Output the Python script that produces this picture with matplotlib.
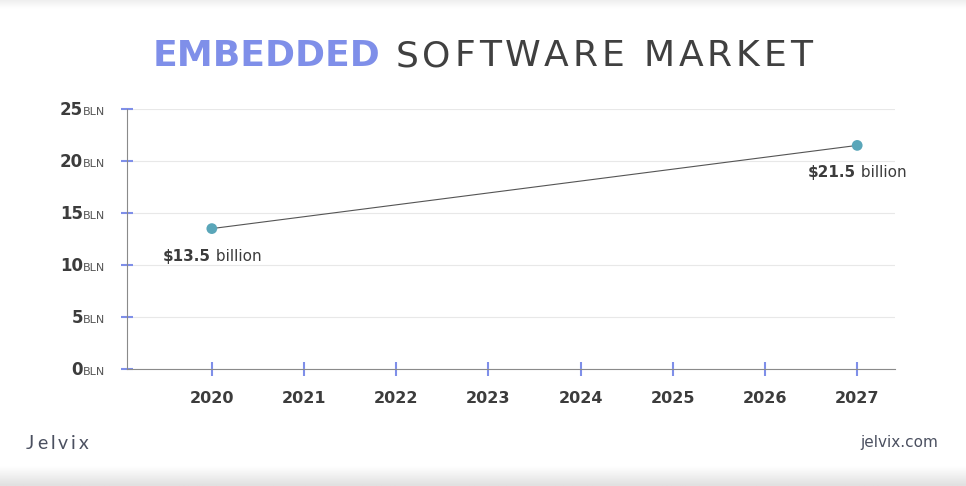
import numpy as np
import matplotlib
matplotlib.use("Agg")
import matplotlib.pyplot as plt

# data
years = [2020, 2027]
values = [13.5, 21.5]
value_labels = ["$13.5", "$21.5"]
x_ticks = [2020, 2021, 2022, 2023, 2024, 2025, 2026, 2027]
y_ticks = [0, 5, 10, 15, 20, 25]

FONT = "DejaVu Sans"
DARK = "#3c3c3c"
BLUE = "#7f8fe9"
TEAL = "#5aa6b9"

fig = plt.figure(figsize=(9.66, 4.86), dpi=100)
fig.patch.set_facecolor("white")

# soft grey shading at top and bottom edges
bg = fig.add_axes([0, 0, 1, 1], zorder=-10)
rows = np.ones(486)
rows[:10] = np.linspace(0.93, 1.0, 10)
rows[-20:] = np.linspace(1.0, 0.88, 20)
bg.imshow(np.tile(rows[:, None], (1, 10)), cmap="gray", vmin=0, vmax=1,
          aspect="auto", extent=[0, 1, 0, 1])
bg.axis("off")

ax = fig.add_axes([127 / 966, 117 / 486, 768 / 966, 260 / 486])
ax.set_facecolor("none")
ax.set_xlim(2019.08, 2027.41)
ax.set_ylim(0, 25)

ax.plot(years, values, color="#555555", lw=0.8, zorder=2)
ax.scatter(years, values, s=60, color=TEAL, zorder=3, edgecolors="none")

for s in ["top", "right"]:
    ax.spines[s].set_visible(False)
ax.spines["left"].set_color("#8a8a8a")
ax.spines["bottom"].set_color("#8a8a8a")

ax.set_yticks(y_ticks)
ax.set_yticklabels([])
ax.set_xticks(x_ticks)
ax.set_xticklabels([str(y) for y in x_ticks], fontfamily=FONT,
                   fontweight="bold", fontsize=11.5, color=DARK)
ax.tick_params(axis="x", direction="inout", length=10, width=1.5,
               color=BLUE, pad=11)
ax.tick_params(axis="y", direction="inout", length=9, width=1.5, color=BLUE)
ax.grid(axis="y", color="#e8e8e8", lw=0.8)
ax.set_axisbelow(True)

fig.canvas.draw()
renderer = fig.canvas.get_renderer()


def parts_text(parts, x, y, align="center", family=FONT):
    # parts: list of (text, weight, size, color, tracking_px); x, y in pixels (baseline)
    objs = []
    for txt, w, sz, c, tr in parts:
        chunks = list(txt) if tr else [txt]
        for ch in chunks:
            t = fig.text(0, y / 486, ch, fontfamily=family, fontweight=w,
                         fontsize=sz, color=c, ha="left", va="baseline")
            objs.append((t, tr))
    widths = []
    for t, tr in objs:
        if t.get_text() == " ":
            t.set_text("\u00a0")
        widths.append(t.get_window_extent(renderer).width + tr)
    total = sum(widths) - objs[-1][1]
    if align == "center":
        start = x - total / 2
    elif align == "right":
        start = x - total
    else:
        start = x
    for (t, tr), w in zip(objs, widths):
        t.set_x(start / 966)
        start += w
    return objs


# y tick labels: bold number + small "BLN"
for v in y_ticks:
    ypix = ax.transData.transform((2020, v))[1]
    fig.text(83 / 966, (ypix - 6) / 486, str(v), fontfamily=FONT,
             fontweight="bold", fontsize=12, color=DARK,
             ha="right", va="baseline")
    fig.text(83 / 966, (ypix - 6) / 486, "BLN", fontfamily=FONT,
             fontsize=8, color="#555555", ha="left", va="baseline")

# point labels
for yr, v, lab in zip(years, values, value_labels):
    px, py = ax.transData.transform((yr, v))
    parts_text([(lab, "bold", 11, DARK, 0), (" billion", "normal", 11, DARK, 0)],
               px, py - 32)

# title
parts_text([("EMBEDDED", "bold", 26, BLUE, 0),
            (" SOFTWARE MARKET", "normal", 26, "#404040", 3.8)],
           482, 486 - 66)

# footer
parts_text([("Jelvix", "normal", 14, "#4b5060", 3)], 26, 486 - 449,
           align="left", family="Lato")
fig.text(938 / 966, (486 - 447) / 486, "jelvix.com", fontfamily=FONT,
         fontsize=11, color="#4b5060", ha="right", va="baseline")

fig.savefig("out.png", dpi=100)
